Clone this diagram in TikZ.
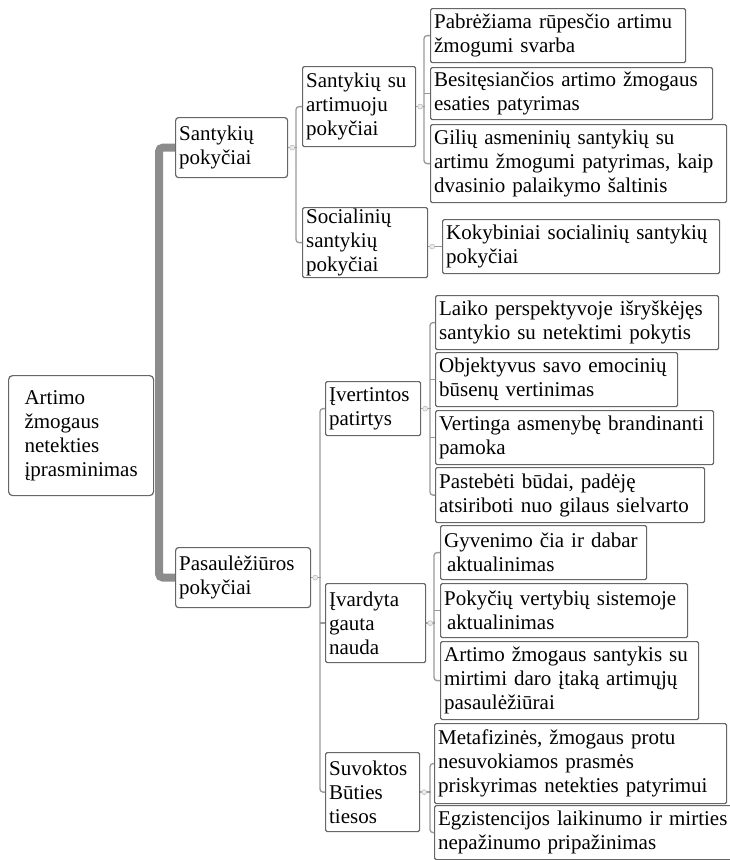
\documentclass[tikz,border=0pt]{standalone}
\usepackage{fontspec}
\setmainfont{Liberation Serif}
\tikzset{
  box/.style={draw=black!60, line width=1.2pt, rounded corners=1.5pt, anchor=north west, align=left, inner xsep=3.5pt, inner ysep=0pt, font=\fontsize{21}{24}\selectfont},
  kroot/.style={box, rounded corners=4pt},
  kmid/.style={box, rounded corners=3pt},
  trunk/.style={draw=black!45, line width=8pt, rounded corners=4pt},
  branch/.style={draw=black!40, line width=1.3pt, rounded corners=3pt},
  knob/.style={draw=black!25, fill=black!8, line width=0.6pt},
}
\begin{document}
\begin{tikzpicture}[x=1pt, y=-1pt]
    \useasboundingbox (0,0) rectangle (729,860);
    % root and first level
    \node[kroot, minimum width=145pt, minimum height=120pt] (root) at (8,375) {Artimo\\žmogaus\\netekties\\įprasminimas};
    \node[kmid, text width=105pt, minimum height=60pt] (sant) at (175,117) {Santykių\\pokyčiai};
    \node[kmid, text width=128pt, minimum height=60pt] (pas) at (175,547) {Pasaulėžiūros\\pokyčiai};
    % second level
    \node[box, text width=106pt, minimum height=80pt] (sart) at (302,66) {Santykių su\\artimuoju\\pokyčiai};
    \node[box, text width=118pt, minimum height=70pt] (soc) at (302,207) {Socialinių\\santykių\\pokyčiai};
    \node[box, text width=88pt, minimum height=54pt] (ivert) at (325,381) {Įvertintos\\patirtys};
    \node[box, text width=93pt, minimum height=79pt] (ivard) at (325,583) {Įvardyta\\gauta\\nauda};
    \node[box, text width=87pt, minimum height=79pt] (suv) at (325,752) {Suvoktos\\Būties\\tiesos};
    % third level
    \node[box, text width=248pt, minimum height=54pt] (pab) at (430,8) {Pabrėžiama rūpesčio artimu\\žmogumi svarba};
    \node[box, text width=275pt, minimum height=52pt] (bes) at (430,67) {Besitęsiančios artimo žmogaus\\esaties patyrimas};
    \node[box, text width=289pt, minimum height=78pt] (gil) at (430,124) {Gilių asmeninių santykių su\\artimu žmogumi patyrimas, kaip\\dvasinio palaikymo šaltinis};
    \node[box, text width=270pt, minimum height=54pt] (kok) at (442,219) {Kokybiniai socialinių santykių\\pokyčiai};
    \node[box, text width=276pt, minimum height=54pt] (laik) at (435,295) {Laiko perspektyvoje išryškėjęs\\santykio su netektimi pokytis};
    \node[box, text width=235pt, minimum height=54pt] (obj) at (435,352) {Objektyvus savo emocinių\\būsenų vertinimas};
    \node[box, text width=271pt, minimum height=54pt] (vert) at (435,410) {Vertinga asmenybę brandinanti\\pamoka};
    \node[box, text width=262pt, minimum height=55pt] (past) at (435,467) {Pastebėti būdai, padėję\\atsiriboti nuo gilaus sielvarto};
    \node[box, text width=199pt, minimum height=54pt] (gyv) at (440,525) {Gyvenimo čia ir dabar\\\hspace{3pt}aktualinimas};
    \node[box, text width=240pt, minimum height=54pt] (pok) at (440,583) {Pokyčių vertybių sistemoje\\\hspace{3pt}aktualinimas};
    \node[box, text width=251pt, minimum height=78pt] (art) at (440,641) {Artimo žmogaus santykis su\\mirtimi daro įtaką artimųjų\\pasaulėžiūrai};
    \node[box, text width=285pt, minimum height=80pt] (met) at (434,723) {Metafizinės, žmogaus protu\\nesuvokiamos prasmės\\priskyrimas netekties patyrimui};
    \node[box, text width=300pt, minimum height=54pt] (egz) at (434,805) {Egzistencijos laikinumo ir mirties\\nepažinumo pripažinimas};
    % trunk
    \draw[trunk] (sant.west) -- ++(-16,0) |- (pas.west);
    % branches
    \draw[branch] (sart.west) -- ++(-6,0) |- (soc.west);
    \draw[branch] (sant.east) -- ++(9,0);
    \draw[knob] (sant.east) ++(4,0) circle[radius=2.5];
    \draw[branch] (pab.west) -- ++(-6,0) |- (gil.west);
    \draw[branch] (bes.west) -- ++(-6,0);
    \draw[branch] (sart.east) -- ++(9,0);
    \draw[knob] (sart.east) ++(4,0) circle[radius=2.5];
    \draw[branch] (kok.west) -- (kok.west -| soc.east);
    \draw[knob] (kok.west -| soc.east) ++(4,0) circle[radius=2.5];
    \draw[branch] (ivert.west) -- ++(-5,0) |- (suv.west);
    \draw[branch] (ivard.west) -- ++(-5,0);
    \draw[branch] (pas.east) -- ++(10,0);
    \draw[knob] (pas.east) ++(4,0) circle[radius=2.5];
    \draw[branch] (laik.west) -- ++(-5,0) |- (past.west);
    \draw[branch] (obj.west) -- ++(-5,0);
    \draw[branch] (vert.west) -- ++(-5,0);
    \draw[branch] (ivert.east) -- ++(10,0);
    \draw[knob] (ivert.east) ++(4,0) circle[radius=2.5];
    \draw[branch] (gyv.west) -- ++(-6,0) |- (art.west);
    \draw[branch] (pok.west) -- ++(-6,0);
    \draw[branch] (ivard.east) -- ++(9,0);
    \draw[knob] (ivard.east) ++(4,0) circle[radius=2.5];
    \draw[branch] (met.west) -- ++(-4,0) |- (egz.west);
    \draw[branch] (suv.east) -- ++(11,0);
    \draw[knob] (suv.east) ++(4,0) circle[radius=2.5];
  \end{tikzpicture}
\end{document}
